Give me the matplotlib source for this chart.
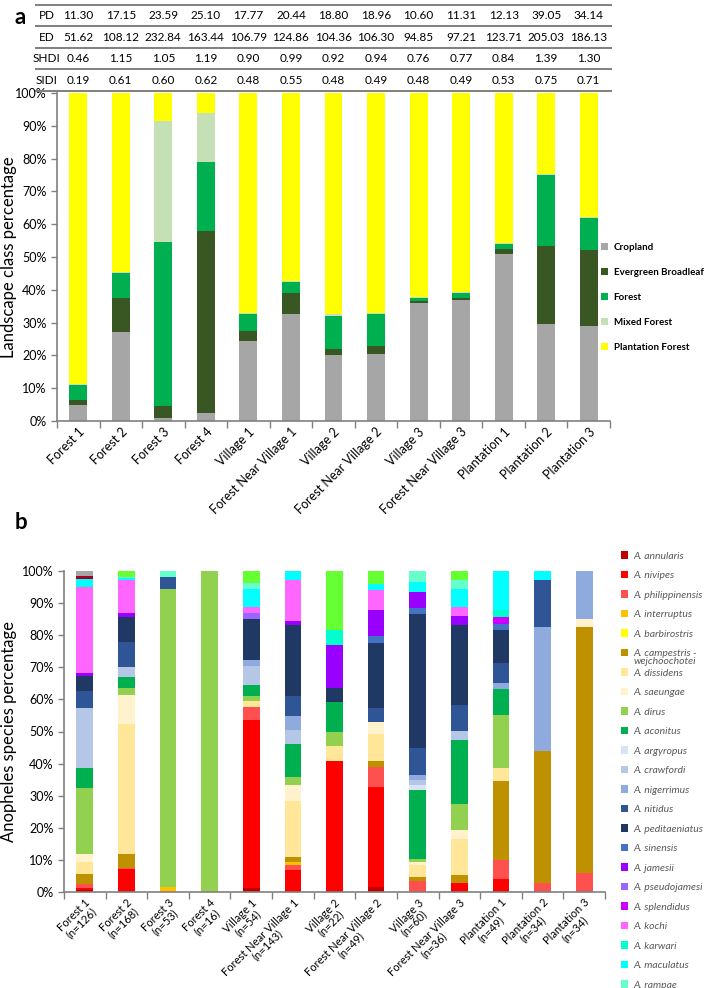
import numpy as np
import matplotlib.pyplot as plt

plt.rcParams['font.family'] = ['Lato', 'DejaVu Sans']

sites = ['Forest 1', 'Forest 2', 'Forest 3', 'Forest 4', 'Village 1',
         'Forest Near Village 1', 'Village 2', 'Forest Near Village 2',
         'Village 3', 'Forest Near Village 3', 'Plantation 1', 'Plantation 2',
         'Plantation 3']
n_mosq = [126, 168, 53, 16, 54, 143, 22, 49, 60, 36, 49, 34, 34]

# landscape metrics table
pd_vals = ['11.30', '17.15', '23.59', '25.10', '17.77', '20.44', '18.80', '18.96', '10.60', '11.31', '12.13', '39.05', '34.14']
ed_vals = ['51.62', '108.12', '232.84', '163.44', '106.79', '124.86', '104.36', '106.30', '94.85', '97.21', '123.71', '205.03', '186.13']
shdi_vals = ['0.46', '1.15', '1.05', '1.19', '0.90', '0.99', '0.92', '0.94', '0.76', '0.77', '0.84', '1.39', '1.30']
sidi_vals = ['0.19', '0.61', '0.60', '0.62', '0.48', '0.55', '0.48', '0.49', '0.48', '0.49', '0.53', '0.75', '0.71']

# panel a : landscape class %
cropland = [5.0, 27.0, 1.0, 2.5, 24.5, 32.5, 20.0, 20.5, 36.0, 37.0, 51.0, 29.5, 29.0]
evergreen = [1.5, 10.5, 3.5, 55.5, 3.0, 6.5, 2.0, 2.5, 0.5, 0.5, 1.5, 24.0, 23.0]
forest = [4.5, 7.5, 50.0, 21.0, 5.0, 3.5, 10.0, 9.5, 1.0, 1.5, 1.5, 21.5, 10.0]
mixed = [0.3, 0.5, 37.0, 15.0, 0.5, 0.2, 0.7, 0.5, 0.2, 0.3, 0.2, 0.2, 0.2]
plantation = [88.7, 54.5, 8.5, 6.0, 67.0, 57.3, 67.3, 67.0, 62.3, 60.7, 45.8, 24.8, 37.8]
land_names = ['Cropland', 'Evergreen Broadleaf', 'Forest', 'Mixed Forest', 'Plantation Forest']
land_cols = ['#A6A6A6', '#385723', '#00B050', '#C5E0B4', '#FFFF00']

# panel b : species %
annularis = [0.5, 0, 0, 0, 1.2, 0, 0, 1.5, 0, 0, 0, 0, 0]
nivipes = [0.8, 7.2, 0, 0, 52.5, 7.0, 40.9, 31.1, 0, 2.8, 4.0, 0, 0]
philippinensis = [1.2, 0.3, 0, 0, 3.9, 1.3, 0, 6.3, 3.3, 0, 6.0, 2.8, 6.0]
interruptus = [0, 0, 1.5, 0, 0, 1.0, 0, 0, 0, 0, 0, 0, 0]
barbirostris = [0, 0, 0, 0, 0, 0, 0, 0, 0, 0, 0, 0, 0]
campestris = [3.0, 4.3, 0, 0, 0, 1.7, 0, 1.8, 1.5, 2.5, 24.5, 41.2, 76.4]
dissidens = [4.0, 40.6, 0, 0, 1.9, 17.5, 4.5, 8.4, 3.5, 11.2, 4.1, 0, 0]
saeungae = [2.3, 9.0, 0, 0, 0, 4.9, 0, 3.9, 1.2, 2.9, 0, 0, 2.8]
dirus = [20.6, 2.2, 92.8, 100, 1.5, 2.3, 4.5, 0, 0.8, 8.1, 16.5, 0, 0]
aconitus = [6.2, 3.3, 0, 0, 3.6, 10.4, 9.3, 0, 21.4, 19.8, 8.1, 0, 0]
argyropus = [0, 0, 0, 0, 0, 0, 0, 0, 1.5, 0, 0, 0, 0]
crawfordi = [18.8, 3.3, 0, 0, 5.9, 4.3, 0, 0, 1.8, 2.8, 0, 0, 0]
nigerrimus = [0, 0, 0, 0, 1.7, 4.4, 0, 0, 1.6, 0, 2.0, 38.4, 14.8]
nitidus = [5.2, 7.8, 3.7, 0, 0, 6.2, 0, 4.2, 8.3, 8.3, 6.0, 14.8, 0]
peditaeniatus = [4.8, 7.8, 0, 0, 13.0, 22.2, 4.4, 20.3, 41.7, 24.8, 10.4, 0, 0]
sinensis = [0, 0, 0, 0, 0, 0, 0, 2.2, 1.8, 0, 1.9, 0, 0]
jamesii = [0.9, 1.2, 0, 0, 0, 1.3, 13.5, 8.1, 5.0, 2.9, 0, 0, 0]
pseudojamesi = [0, 0, 0, 0, 1.7, 0, 0, 0, 0, 0, 0, 0, 0]
splendidus = [0, 0, 0, 0, 0, 0, 0, 0, 0, 0, 2.3, 0, 0]
kochi = [26.8, 10.3, 0, 0, 1.8, 12.8, 0, 6.3, 0, 2.6, 0, 0, 0]
karwari = [0.3, 0, 0, 0, 0, 0, 4.5, 0, 0, 0, 2.0, 0, 0]
maculatus = [2.1, 0.4, 0, 0, 5.8, 2.7, 0, 2.0, 3.2, 5.7, 12.2, 2.8, 0]
rampae = [0, 0.4, 2.0, 0, 1.9, 0, 0, 0, 3.4, 2.8, 0, 0, 0]
# species further down the legend (cut off in the figure)
tessellatus = [0, 1.9, 0, 0, 3.6, 0, 18.4, 3.9, 0, 2.8, 0, 0, 0]
vagus = [0.9, 0, 0, 0, 0, 0, 0, 0, 0, 0, 0, 0, 0]
other_sp = [1.6, 0, 0, 0, 0, 0, 0, 0, 0, 0, 0, 0, 0]

species = ['A. annularis', 'A. nivipes', 'A. philippinensis', 'A. interruptus',
           'A. barbirostris', 'A. campestris -', 'A. dissidens',
           'A. saeungae', 'A. dirus', 'A. aconitus', 'A. argyropus', 'A. crawfordi',
           'A. nigerrimus', 'A. nitidus', 'A. peditaeniatus', 'A. sinensis',
           'A. jamesii', 'A. pseudojamesi', 'A. splendidus', 'A. kochi',
           'A. karwari', 'A. maculatus', 'A. rampae', 'A. tessellatus', 'A. vagus', 'Others']
sp_vals = [annularis, nivipes, philippinensis, interruptus, barbirostris, campestris,
           dissidens, saeungae, dirus, aconitus, argyropus, crawfordi, nigerrimus,
           nitidus, peditaeniatus, sinensis, jamesii, pseudojamesi, splendidus, kochi,
           karwari, maculatus, rampae, tessellatus, vagus, other_sp]
sp_cols = ['#C00000', '#FF0000', '#FF5050', '#FFC000', '#FFFF00', '#BF9000', '#FFE699',
           '#FFF2CC', '#92D050', '#00B050', '#DAE3F3', '#B4C7E7', '#8FAADC', '#2F5597',
           '#203864', '#4472C4', '#9900FF', '#9966FF', '#CC00FF', '#FF66FF', '#00FFCC',
           '#00FFFF', '#66FFCC', '#66FF33', '#A50021', '#A6A6A6']
n_legend = 23

W, H = 709, 988
fig = plt.figure(figsize=(W / 100, H / 100), dpi=100)
x = np.arange(len(sites))
axcol = '#808080'

def px_axes(x0, x1, ytop, ybot):
    return fig.add_axes([x0 / W, 1 - ybot / H, (x1 - x0) / W, (ybot - ytop) / H])

def style(ax):
    for s in ['top', 'right']:
        ax.spines[s].set_visible(False)
    for s in ['left', 'bottom']:
        ax.spines[s].set_color(axcol)
        ax.spines[s].set_linewidth(1.2)
    ax.set_xlim(-0.5, 12.5)
    ax.set_ylim(0, 100)
    ax.set_yticks(np.arange(0, 101, 10))
    ax.set_yticklabels(['%d%%' % v for v in range(0, 101, 10)], fontsize=9)
    ax.tick_params(axis='y', length=4, color=axcol, width=1)
    ax.set_xticks(x)
    ax.set_xticks(np.arange(-0.5, 12.6, 1), minor=True)
    ax.tick_params(axis='x', which='major', length=0)
    ax.tick_params(axis='x', which='minor', length=5, color=axcol, width=1)

# ---- panel a
axa = px_axes(57, 610, 93, 421)
bottom = np.zeros(len(sites))
for vals, nm, c in zip([cropland, evergreen, forest, mixed, plantation], land_names, land_cols):
    axa.bar(x, vals, 0.42, bottom=bottom, color=c, label=nm)
    bottom += np.array(vals)
style(axa)
axa.set_xticklabels(sites, rotation=45, ha='right', rotation_mode='anchor', fontsize=9)
axa.set_ylabel('Landscape class percentage', fontsize=12)
axa.yaxis.set_label_coords((17 - 57) / 553, 0.5)
axa.legend(loc='upper left', bbox_to_anchor=(0.968, 0.57), frameon=False,
           prop={'weight': 'bold', 'size': 7}, handlelength=0.7, handleheight=0.7,
           labelspacing=1.65, handletextpad=0.6)

# table above panel a
tax = px_axes(57, 610, 5, 91)
tax.set_xlim(-0.5, 12.5)
tax.set_ylim(4, 0)
tax.axis('off')
for r, (lab, row) in enumerate(zip(['PD', 'ED', 'SHDI', 'SIDI'], [pd_vals, ed_vals, shdi_vals, sidi_vals])):
    tax.text(-0.74, r + 0.5, lab, ha='center', va='center', fontsize=8.5)
    for i, v in enumerate(row):
        tax.text(i, r + 0.5, v, ha='center', va='center', fontsize=8.5)
tax.hlines(np.arange(0, 5), -1.02, 12.55, color='#7F7F7F', lw=1.4, clip_on=False)

# ---- panel b
axb = px_axes(64, 605, 571, 892)
bottom = np.zeros(len(sites))
handles = []
for vals, nm, c in zip(sp_vals, species, sp_cols):
    b = axb.bar(x, vals, 0.4, bottom=bottom, color=c, label=nm)
    handles.append(b)
    bottom += np.array(vals)
style(axb)
axb.set_xticklabels(['%s\n(n=%d)' % (s, n) for s, n in zip(sites, n_mosq)],
                    rotation=45, ha='right', rotation_mode='anchor', fontsize=8,
                    multialignment='center', linespacing=0.95)
axb.set_ylabel('Anopheles species percentage', fontsize=12)
axb.yaxis.set_label_coords((17 - 64) / 541, 0.5)
leg = axb.legend(handles[:n_legend], species[:n_legend], loc='upper left',
                 bbox_to_anchor=(1.012, 1.09), frameon=False,
                 prop={'style': 'italic', 'size': 7.5}, labelcolor='#595959',
                 handlelength=0.7, handleheight=0.7, labelspacing=0.98, handletextpad=0.5)

fig.text(15 / W, 1 - 18 / H, 'a', fontsize=16, fontweight='bold', va='center')
fig.text(15 / W, 1 - 522 / H, 'b', fontsize=16, fontweight='bold', va='center')

# second line of the campestris label, tucked under it like the original legend
fig.canvas.draw()
bb = leg.get_texts()[5].get_window_extent()
fig.text(bb.x0 / W, (bb.y0 + 1) / H, 'wejchoochotei', va='top', ha='left',
         fontsize=7.5, style='italic', color='#595959')

fig.savefig('out.png', dpi=100)
